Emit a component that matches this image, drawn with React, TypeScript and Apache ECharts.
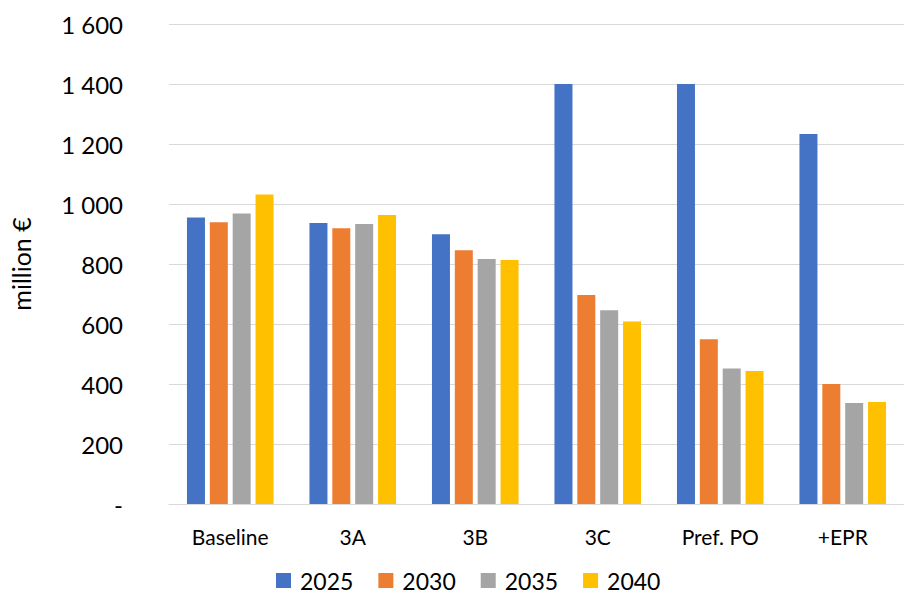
import React, { useEffect, useRef } from "react";
import * as echarts from "echarts";

const categories = ["Baseline", "3A", "3B", "3C", "Pref. PO", "+EPR"];
const seriesNames = ["2025", "2030", "2035", "2040"];
const v2025 = [955, 937, 899, 1400, 1400, 1233];
const v2030 = [939, 919, 846, 697, 549, 400];
const v2035 = [968, 933, 817, 646, 452, 337];
const v2040 = [1032, 963, 813, 608, 443, 340];
const colors = ["#4472C4", "#ED7D31", "#A5A5A5", "#FFC000"];
const yTicks = [0, 200, 400, 600, 800, 1000, 1200, 1400, 1600];

const FONT = "Lato, 'Open Sans', sans-serif";

export default function App() {
  const ref = useRef<HTMLDivElement>(null);
  useEffect(() => {
    if (!ref.current) return;
    const chart = echarts.init(ref.current, undefined, { renderer: "svg" });
    const values = [v2025, v2030, v2035, v2040];
    chart.setOption({
      animation: false,
      backgroundColor: "#ffffff",
      textStyle: { fontFamily: FONT },
      grid: { left: 168, right: -11, top: 24, bottom: 91, containLabel: false },
      legend: {
        data: seriesNames,
        top: 569,
        left: 271,
        padding: [0, 5, 0, 5],
        itemWidth: 15,
        itemHeight: 15,
        itemGap: 25,
        icon: "rect",
        textStyle: {
          fontSize: 23,
          lineHeight: 22,
          color: "#000",
          fontFamily: FONT,
          padding: [0, 0, 0, 4],
        },
      },
      xAxis: {
        type: "category",
        data: categories,
        axisLine: { lineStyle: { color: "#d9d9d9", width: 1 } },
        axisTick: { show: false },
        axisLabel: { color: "#000", fontSize: 21, margin: 22, fontFamily: FONT },
      },
      yAxis: {
        type: "value",
        min: yTicks[0],
        max: yTicks[yTicks.length - 1],
        interval: 200,
        name: "million €",
        nameLocation: "middle",
        nameGap: 136,
        nameTextStyle: { fontSize: 25, color: "#000", fontFamily: FONT },
        axisLine: { show: false },
        axisTick: { show: false },
        splitLine: { lineStyle: { color: "#d9d9d9", width: 1 } },
        axisLabel: {
          color: "#000",
          fontSize: 24,
          margin: 46,
          fontFamily: FONT,
          formatter: (v: number) =>
            v === 0 ? "-" : String(v).replace(/\B(?=(\d{3})+(?!\d))/g, " "),
        },
      },
      series: seriesNames.map((n, i) => ({
        name: n,
        type: "bar",
        data: values[i],
        barWidth: 18,
        barGap: "27%",
        itemStyle: { color: colors[i] },
      })),
    });
    return () => chart.dispose();
  }, []);
  return <div ref={ref} style={{ position: "fixed", left: 0, top: 0, width: 904, height: 595 }} />;
}
